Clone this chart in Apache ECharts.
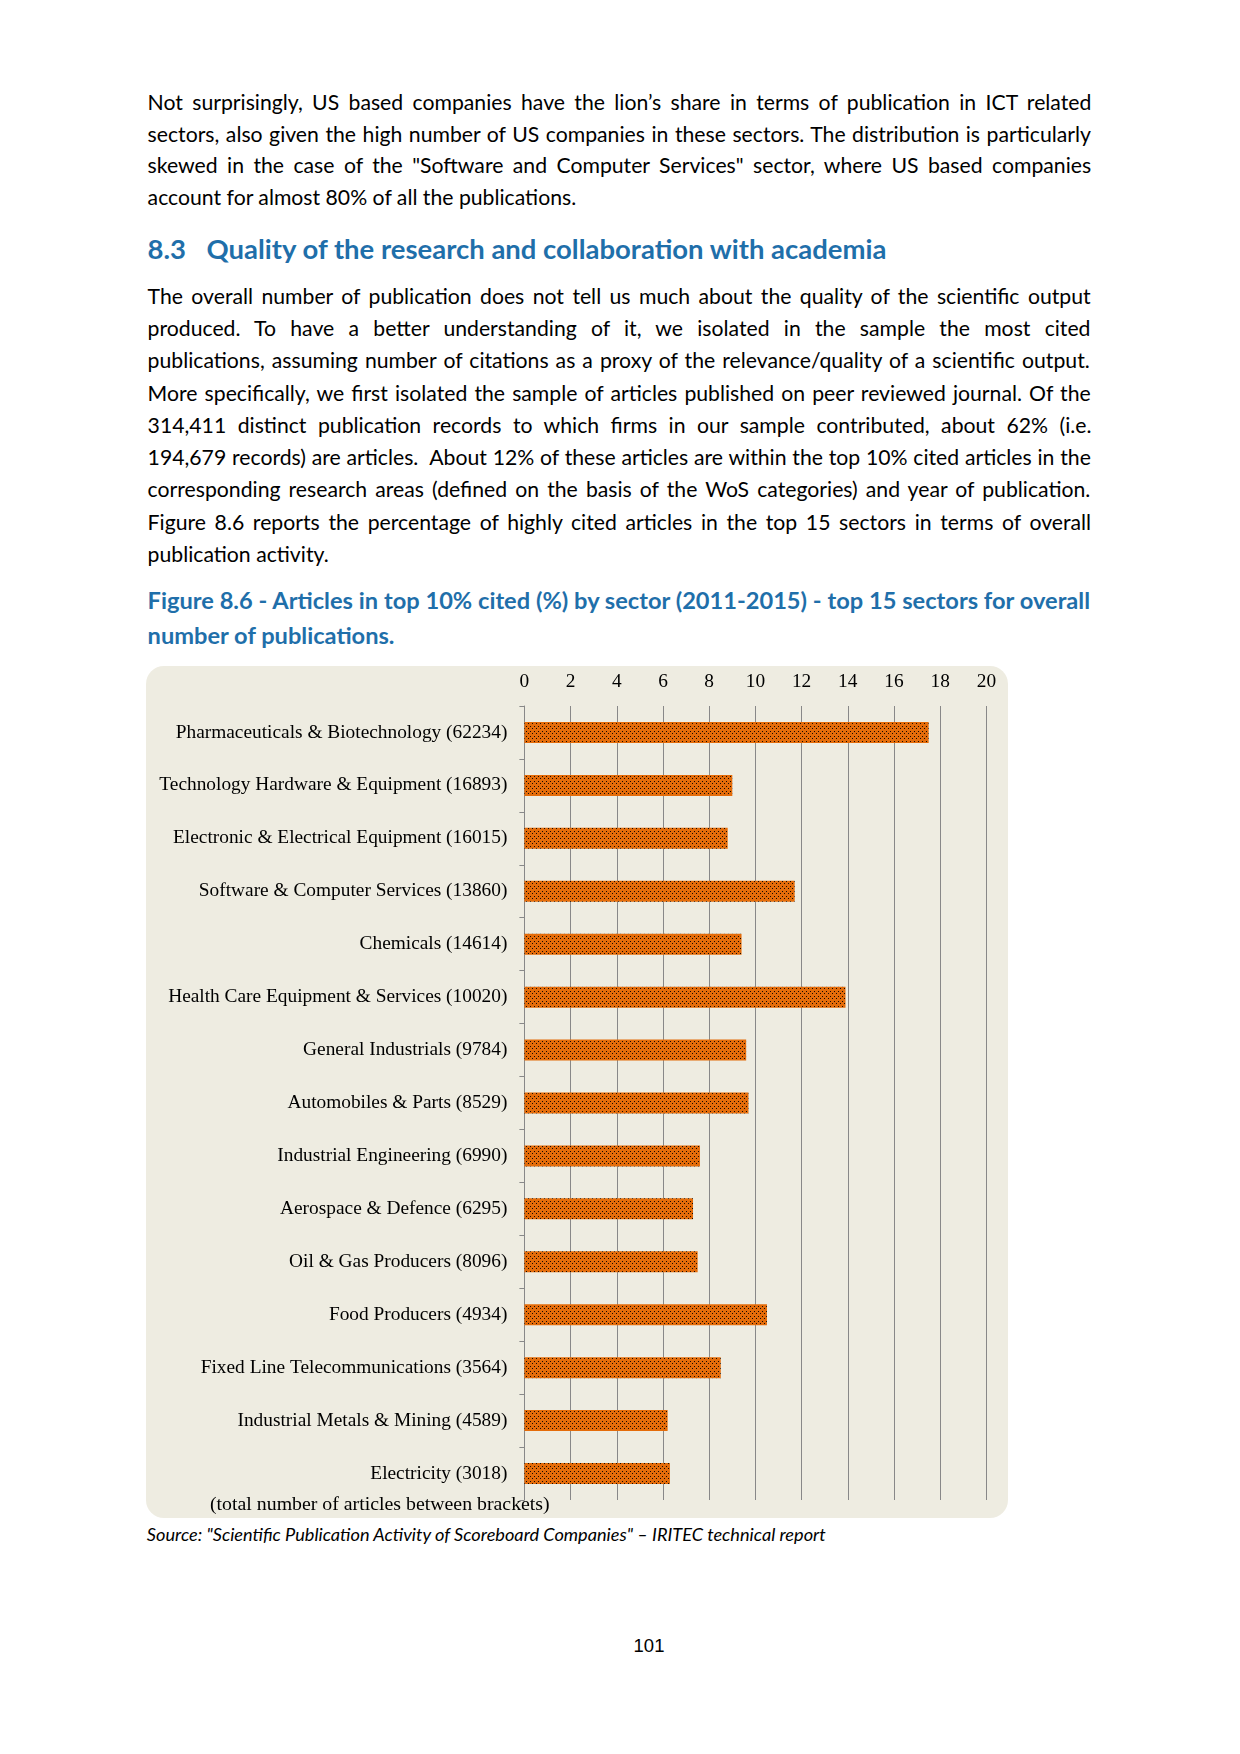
<!DOCTYPE html>
<html>
<head>
<meta charset="utf-8">
<script src="https://cdn.jsdelivr.net/npm/echarts@6/dist/echarts.min.js"></script>
<style>
  html, body { margin: 0; padding: 0; background: #ffffff; }
  #page { position: relative; width: 1240px; height: 1754px; overflow: hidden; background: #fff; }
  #chart { position: absolute; left: 146px; top: 666px; width: 862px; height: 852px; }
</style>
</head>
<body>
<div id="page">
  <div id="chart"></div>
</div>
<script>
// ---------------- DATA ----------------
const sectors = [
  'Pharmaceuticals & Biotechnology',
  'Technology Hardware & Equipment',
  'Electronic & Electrical Equipment',
  'Software & Computer Services',
  'Chemicals',
  'Health Care Equipment & Services',
  'General Industrials',
  'Automobiles & Parts',
  'Industrial Engineering',
  'Aerospace & Defence',
  'Oil & Gas Producers',
  'Food Producers',
  'Fixed Line Telecommunications',
  'Industrial Metals & Mining',
  'Electricity'
];
const articleCounts = [62234, 16893, 16015, 13860, 14614, 10020, 9784, 8529, 6990, 6295, 8096, 4934, 3564, 4589, 3018];
const top10CitedPct = [17.5, 9.0, 8.8, 11.7, 9.4, 13.9, 9.6, 9.7, 7.6, 7.3, 7.5, 10.5, 8.5, 6.2, 6.3];
const xTickValues = [0, 2, 4, 6, 8, 10, 12, 14, 16, 18, 20];

// ---------------- TEXT ----------------
const para1 = [
  'Not surprisingly, US based companies have the lion\u2019s share in terms of publication in ICT related',
  'sectors, also given the high number of US companies in these sectors. The distribution is particularly',
  'skewed in the case of the "Software and Computer Services" sector, where US based companies',
  'account for almost 80% of all the publications.'
];
const headingNum = '8.3';
const headingText = 'Quality of the research and collaboration with academia';
const para2 = [
  'The overall number of publication does not tell us much about the quality of the scientific output',
  'produced. To have a better understanding of it, we isolated in the sample the most cited',
  'publications, assuming number of citations as a proxy of the relevance/quality of a scientific output.',
  'More specifically, we first isolated the sample of articles published on peer reviewed journal. Of the',
  '314,411 distinct publication records to which firms in our sample contributed, about 62% (i.e.',
  '194,679 records) are articles.  About 12% of these articles are within the top 10% cited articles in the',
  'corresponding research areas (defined on the basis of the WoS categories) and year of publication.',
  'Figure 8.6 reports the percentage of highly cited articles in the top 15 sectors in terms of overall',
  'publication activity.'
];
const caption = [
  'Figure 8.6 - Articles in top 10% cited (%) by sector (2011-2015) - top 15 sectors for overall',
  'number of publications.'
];
const bracketNote = '(total number of articles between brackets)';
const sourceText = 'Source: "Scientific Publication Activity of Scoreboard Companies" \u2013 IRITEC technical report';
const pageNumber = '101';

// ---------------- LAYOUT HELPERS ----------------
const mctx = document.createElement('canvas').getContext('2d');
function fontStr(style, weight, size, family) { return style + ' ' + weight + ' ' + size + 'px ' + family; }
function measure(text, font) { mctx.font = font; return mctx.measureText(text).width; }
function fitSize(text, style, weight, family, target) {
  return 100 * target / measure(text, fontStr(style, weight, 100, family));
}
const page = document.getElementById('page');
function addLine(text, o) {
  const d = document.createElement('div');
  d.textContent = text;
  const f = fontStr(o.style, o.weight, o.size, o.family);
  let ws = 0;
  if (o.justify) {
    const nat = measure(text, f);
    const spaces = (text.match(/ /g) || []).length;
    if (spaces) ws = (o.width - nat) / spaces;
  }
  d.style.cssText = 'position:absolute;white-space:pre;left:' + o.left + 'px;top:' + (o.cy - o.lh / 2) +
    'px;height:' + o.lh + 'px;line-height:' + o.lh + 'px;font:' + f + ';word-spacing:' + ws + 'px;color:' + o.color + ';' +
    (o.center ? 'transform:translateX(-50%);' : '');
  page.appendChild(d);
}

const SANS = 'Lato';
const SERIF = '"Liberation Serif"';
const LEFT = 147.6, WIDTH = 944.8;
const BLUE = '#1F6FAA';

const bodySize = (fitSize(para1[3], 'normal', 'normal', SANS, 430) + fitSize(para2[8], 'normal', 'normal', SANS, 181)) / 2;
para1.forEach((t, i) => addLine(t, { left: LEFT, width: WIDTH, cy: 104 + i * 31.7, size: bodySize, style: 'normal', weight: 'normal', family: SANS, color: '#000', justify: i < para1.length - 1, lh: 30 }));

const headSize = fitSize(headingText, 'normal', 'bold', SANS, 682);
addLine(headingNum, { left: LEFT, cy: 248.5, size: headSize, style: 'normal', weight: 'bold', family: SANS, color: BLUE, lh: 34 });
addLine(headingText, { left: 206.5, cy: 248.5, size: headSize, style: 'normal', weight: 'bold', family: SANS, color: BLUE, lh: 34 });

para2.forEach((t, i) => addLine(t, { left: LEFT, width: WIDTH, cy: 297.8 + i * 32.25, size: bodySize, style: 'normal', weight: 'normal', family: SANS, color: '#000', justify: i < para2.length - 1, lh: 30 }));

const capSize = fitSize(caption[1], 'normal', 'bold', SANS, 248);
caption.forEach((t, i) => addLine(t, { left: LEFT, width: WIDTH, cy: 602 + i * 35, size: capSize, style: 'normal', weight: 'bold', family: SANS, color: BLUE, justify: i === 0, lh: 32 }));

const srcSize = fitSize(sourceText, 'italic', 'normal', SANS, 681);
addLine(sourceText, { left: 146.8, cy: 1534.5, size: srcSize, style: 'italic', weight: 'normal', family: SANS, color: '#000', lh: 24 });

addLine(pageNumber, { left: 649, cy: 1645.5, size: 18.5, style: 'normal', weight: 'normal', family: '"Liberation Sans"', color: '#000', lh: 22, center: true });

// ---------------- CHART ----------------
const labels = sectors.map((s, i) => s + ' (' + articleCounts[i] + ')');
const labelSize = fitSize(labels[0], 'normal', 'normal', SERIF, 332);
const noteSize = fitSize(bracketNote, 'normal', 'normal', SERIF, 340);

const pat = document.createElement('canvas');
pat.width = 4; pat.height = 5;
const pctx = pat.getContext('2d');
pctx.fillStyle = '#E46C0A';
pctx.fillRect(0, 0, 4, 5);
pctx.fillStyle = '#140800';
pctx.fillRect(0, 0, 1, 1);
pctx.fillRect(2, 2, 1, 1);

const chart = echarts.init(document.getElementById('chart'), null, { renderer: 'canvas' });
const W = 862, H = 852;
chart.setOption({
  animation: false,
  graphic: [
    { type: 'rect', z: -10, silent: true, shape: { x: 0, y: 0, width: W, height: H, r: 18 }, style: { fill: '#EEECE1' } },
    { type: 'text', z: 100, silent: true, x: 64, y: 839, style: { text: bracketNote, font: noteSize + 'px ' + SERIF, fill: '#000', verticalAlign: 'middle', align: 'left' } }
  ],
  grid: { left: 378.4, right: 21.6, top: 40, bottom: 18, containLabel: false, outerBoundsMode: 'none' },
  xAxis: {
    type: 'value', position: 'top',
    min: xTickValues[0], max: xTickValues[xTickValues.length - 1], interval: xTickValues[1] - xTickValues[0],
    axisLine: { show: false }, axisTick: { show: false },
    splitLine: { show: true, lineStyle: { color: '#888888', width: 1 } },
    axisLabel: { fontFamily: 'Liberation Serif', fontSize: labelSize, color: '#000', margin: 15 }
  },
  yAxis: {
    type: 'category', inverse: true, data: labels,
    axisLine: { show: true, lineStyle: { color: '#888888', width: 1 } },
    axisTick: { show: true, length: 5, lineStyle: { color: '#888888' } },
    splitLine: { show: false },
    axisLabel: { fontFamily: 'Liberation Serif', fontSize: labelSize, color: '#000', margin: 17 }
  },
  series: [{
    type: 'bar', data: top10CitedPct, barWidth: 21,
    itemStyle: { color: { image: pat, repeat: 'repeat' } }
  }]
});
</script>
</body>
</html>
